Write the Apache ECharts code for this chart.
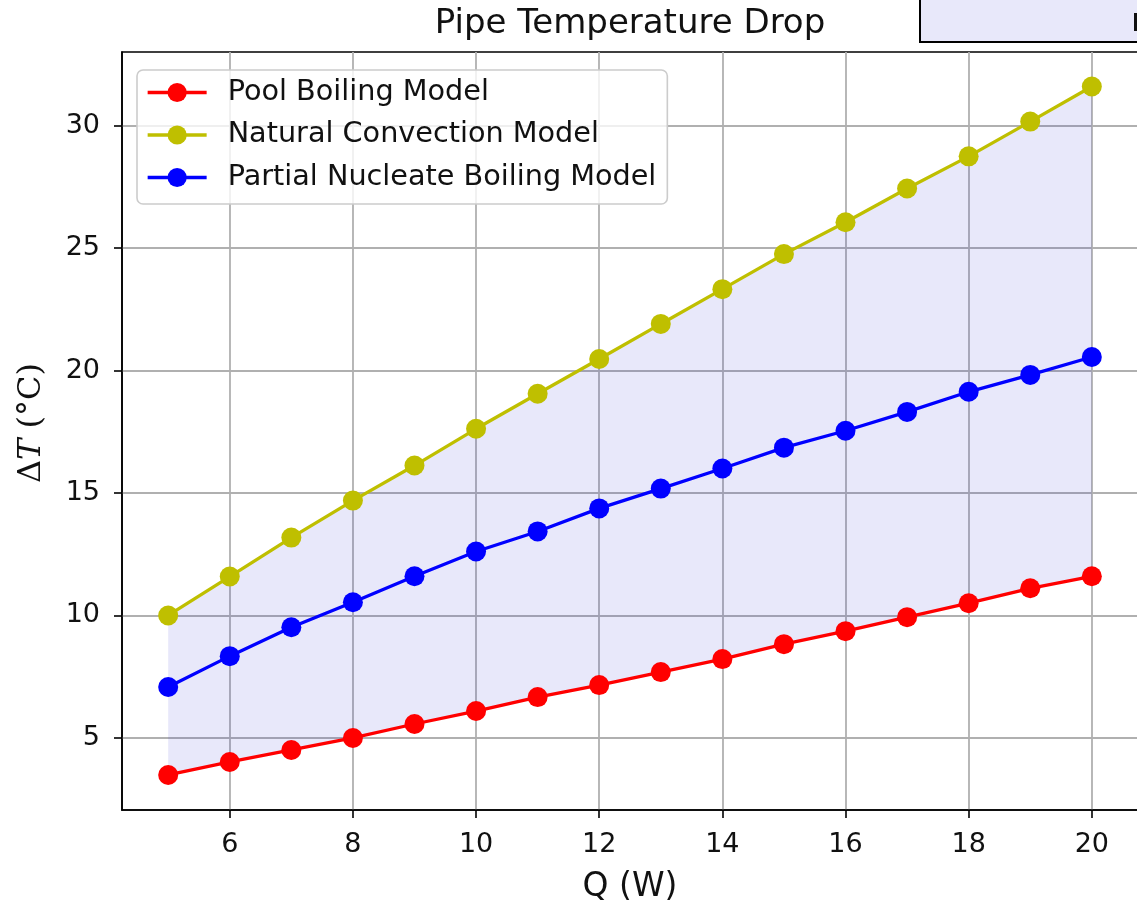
<!DOCTYPE html>
<html>
<head>
<meta charset="utf-8">
<title>Pipe Temperature Drop</title>
<script src="https://cdn.jsdelivr.net/npm/echarts@6/dist/echarts.min.js"></script>
<style>
  html, body { margin: 0; padding: 0; background: #fff; }
  #chart { width: 1137px; height: 905px; }
</style>
</head>
<body>
<div id="chart"></div>
<script>
// Heat load Q (W)
const heatLoad = [5, 6, 7, 8, 9, 10, 11, 12, 13, 14, 15, 16, 17, 18, 19, 20];

// Temperature drop ΔT (°C) predicted by each model
const poolBoiling = [3.49, 4.02, 4.51, 5.00, 5.57, 6.10, 6.67, 7.16, 7.69, 8.22, 8.83, 9.36, 9.93, 10.50, 11.11, 11.60];
const naturalConvection = [10.00, 11.59, 13.18, 14.69, 16.12, 17.62, 19.05, 20.47, 21.90, 23.32, 24.75, 26.05, 27.43, 28.74, 30.16, 31.59];
const partialNucleate = [7.08, 8.34, 9.52, 10.54, 11.60, 12.61, 13.43, 14.37, 15.18, 16.00, 16.85, 17.54, 18.31, 19.13, 19.82, 20.55];

// Tick labels
const xTicks = [6, 8, 10, 12, 14, 16, 18, 20];
const yTicks = [5, 10, 15, 20, 25, 30];

const seriesNames = ['Pool Boiling Model', 'Natural Convection Model', 'Partial Nucleate Boiling Model'];

const pairs = (ys) => heatLoad.map((q, i) => [q, ys[i]]);

const chart = echarts.init(document.getElementById('chart'), null, { renderer: 'canvas' });

const tickFont = { fontFamily: 'DejaVu Sans', fontSize: 27, color: '#111' };

function modelLine(name, color, values) {
  return {
    name: name,
    type: 'line',
    data: pairs(values),
    symbol: 'circle',
    symbolSize: 20,
    lineStyle: { color: color, width: 3.3 },
    itemStyle: { color: color },
    z: 5,
    animation: false
  };
}

// Shaded band between the pool boiling and natural convection curves
function renderBand(params, api) {
  if (params.dataIndex !== 0) return null;
  const upper = heatLoad.map((q, i) => api.coord([q, naturalConvection[i]]));
  const lower = heatLoad.map((q, i) => api.coord([q, poolBoiling[i]])).reverse();
  return {
    type: 'polygon',
    shape: { points: upper.concat(lower) },
    style: { fill: 'rgba(25,25,205,0.1)' },
    silent: true
  };
}

chart.setOption({
  animation: false,
  backgroundColor: '#fff',
  title: {
    text: 'Pipe Temperature Drop',
    left: 630,
    top: 7,
    padding: 0,
    textAlign: 'center',
    textStyle: { fontFamily: 'DejaVu Sans', fontSize: 34, fontWeight: 'normal', color: '#111' }
  },
  grid: {
    left: 122, top: 52, width: 1016, height: 758,
    outerBoundsMode: 'none',
    containLabel: false,
    show: true, borderColor: '#000', borderWidth: 1.6, backgroundColor: 'transparent'
  },
  legend: {
    data: seriesNames,
    orient: 'vertical',
    left: 137,
    top: 70,
    itemWidth: 59,
    itemHeight: 24,
    itemGap: 13.5,
    padding: [8, 11, 12, 9],
    backgroundColor: 'rgba(255,255,255,0.8)',
    borderColor: '#cccccc',
    borderWidth: 1.6,
    borderRadius: 6,
    lineStyle: { width: 3.3 },
    textStyle: { fontFamily: 'DejaVu Sans', fontSize: 28.7, color: '#111', padding: [0, 0, 0, 16] }
  },
  xAxis: {
    type: 'value',
    min: 4.25,
    max: 20.75,
    splitNumber: 8,
    name: 'Q (W)',
    nameLocation: 'middle',
    nameGap: 61,
    nameTextStyle: { fontFamily: 'DejaVu Sans', fontSize: 33, color: '#111' },
    axisLine: { show: true, onZero: false, lineStyle: { color: '#000', width: 1.6 } },
    axisTick: { show: true, length: 8, customValues: xTicks, lineStyle: { color: '#000', width: 1.6 } },
    axisLabel: { show: true, margin: 21, customValues: xTicks, ...tickFont },
    splitLine: { show: true, lineStyle: { color: '#b0b0b0', width: 1.8 } }
  },
  yAxis: {
    type: 'value',
    min: 2.06,
    max: 33.0,
    splitNumber: 6,
    name: '{a|Δ}{i|T}{a| (°C)}',
    nameLocation: 'middle',
    nameRotate: 90,
    nameGap: 74,
    nameTextStyle: {
      padding: [0, 0, 0, 16],
      rich: {
        a: { fontFamily: 'DejaVu Serif', fontSize: 32, color: '#111' },
        i: { fontFamily: 'DejaVu Serif', fontStyle: 'italic', fontSize: 32, color: '#111' }
      }
    },
    axisLine: { show: true, onZero: false, lineStyle: { color: '#000', width: 1.6 } },
    axisTick: { show: true, length: 8, customValues: yTicks, lineStyle: { color: '#000', width: 1.6 } },
    axisLabel: { show: true, margin: 22, customValues: yTicks, ...tickFont },
    splitLine: { show: true, lineStyle: { color: '#b0b0b0', width: 1.8 } }
  },
  graphic: [
    {
      type: 'rect',
      z: 100,
      shape: { x: 920, y: -10, width: 240, height: 52 },
      style: { fill: '#e8e8fa', stroke: '#000', lineWidth: 2 }
    },
    {
      type: 'rect',
      z: 101,
      shape: { x: 1134, y: 13, width: 3, height: 18 },
      style: { fill: '#111' }
    }
  ],
  series: [
    {
      name: 'band',
      type: 'custom',
      renderItem: renderBand,
      data: pairs(poolBoiling),
      clip: true,
      silent: true,
      z: 1,
      animation: false
    },
    modelLine(seriesNames[0], '#ff0000', poolBoiling),
    modelLine(seriesNames[1], '#bfbf00', naturalConvection),
    modelLine(seriesNames[2], '#0000ff', partialNucleate)
  ]
});
</script>
</body>
</html>
